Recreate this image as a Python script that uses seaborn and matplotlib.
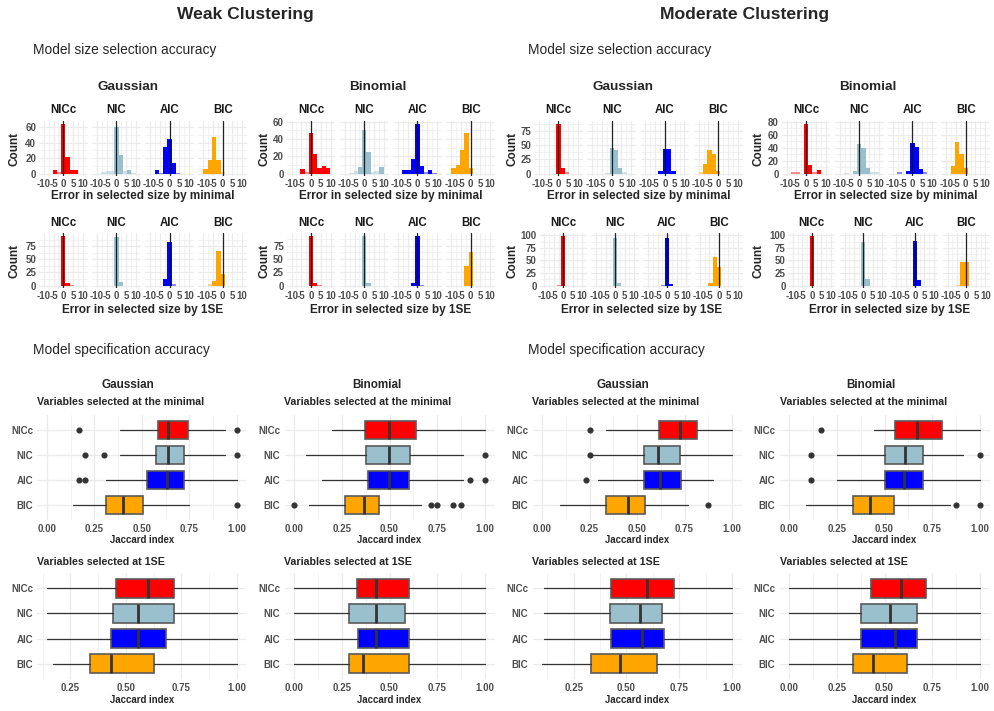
import numpy as np
import matplotlib
matplotlib.use("Agg")
import matplotlib.pyplot as plt
import seaborn as sns

# ── data ──────────────────────────────────────────────────────────────────────
methods = ["NICc", "NIC", "AIC", "BIC"]
palette = {"NICc": "#FF0000", "NIC": "#9AC0CD", "AIC": "#0000FF", "BIC": "#FFA500"}

# histogram bins (width 2.2, centred on 0); counts
bin_centres = [-8.8, -6.6, -4.4, -2.2, 0.0, 2.2, 4.4, 6.6, 8.8]
bin_edges = [-9.9, -7.7, -5.5, -3.3, -1.1, 1.1, 3.3, 5.5, 7.7, 9.9]

weak_gauss_min = {
    "NICc": [0, 0, 5, 2, 65, 22, 4, 4, 0],
    "NIC":  [0, 2, 3, 3, 60, 24, 3, 4, 1],
    "AIC":  [0, 4, 1, 35, 45, 14, 1, 0, 0],
    "BIC":  [6, 18, 48, 18, 2, 0, 0, 0, 0],
}
weak_gauss_1se = {
    "NICc": [0, 0, 0, 0, 95, 4, 1, 0, 0],
    "NIC":  [0, 0, 0, 0, 93, 6, 0, 0, 0],
    "AIC":  [0, 0, 0, 13, 84, 3, 0, 0, 0],
    "BIC":  [0, 2, 8, 67, 22, 0, 0, 0, 0],
}
weak_binom_min = {
    "NICc": [0, 0, 5, 2, 47, 23, 6, 9, 6],
    "NIC":  [0, 1, 3, 7, 50, 25, 2, 3, 8],
    "AIC":  [0, 4, 4, 17, 58, 9, 2, 4, 1],
    "BIC":  [6, 10, 27, 47, 6, 0, 0, 0, 0],
}
weak_binom_1se = {
    "NICc": [0, 0, 0, 0, 93, 5, 1, 0, 0],
    "NIC":  [0, 0, 0, 0, 93, 4, 0, 0, 0],
    "AIC":  [0, 0, 0, 5, 93, 1, 0, 0, 0],
    "BIC":  [0, 0, 0, 37, 62, 0, 0, 0, 0],
}
mod_gauss_min = {
    "NICc": [0, 0, 0, 0, 88, 10, 2, 0, 0],
    "NIC":  [0, 0, 0, 1, 45, 41, 10, 3, 0],
    "AIC":  [0, 0, 0, 5, 43, 43, 5, 0, 0],
    "BIC":  [3, 17, 42, 35, 5, 0, 0, 0, 0],
}
mod_gauss_1se = {
    "NICc": [0, 0, 0, 1, 99, 0, 0, 0, 0],
    "NIC":  [0, 0, 0, 0, 94, 5, 0, 0, 0],
    "AIC":  [0, 0, 0, 2, 94, 4, 0, 0, 0],
    "BIC":  [0, 0, 5, 57, 38, 0, 0, 0, 0],
}
mod_binom_min = {
    "NICc": [0, 2, 2, 0, 77, 13, 2, 5, 0],
    "NIC":  [0, 1, 0, 4, 45, 39, 8, 2, 2],
    "AIC":  [0, 2, 0, 4, 47, 41, 7, 2, 0],
    "BIC":  [0, 12, 48, 30, 8, 0, 0, 0, 0],
}
mod_binom_1se = {
    "NICc": [0, 0, 0, 0, 99, 0, 0, 0, 0],
    "NIC":  [0, 0, 0, 0, 86, 14, 0, 0, 0],
    "AIC":  [0, 0, 0, 0, 89, 11, 0, 0, 0],
    "BIC":  [0, 0, 2, 48, 48, 0, 0, 0, 0],
}

# Jaccard boxplots: whisker low, q1, median, q3, whisker high + outliers
weak_gauss_jmin = {
    "NICc": [0.385, 0.582, 0.638, 0.740, 0.935],
    "NIC":  [0.385, 0.572, 0.635, 0.722, 0.935],
    "AIC":  [0.311, 0.526, 0.630, 0.720, 1.000],
    "BIC":  [0.136, 0.308, 0.402, 0.503, 0.748],
}
weak_gauss_jmin_out = {"NICc": [0.167, 1.0], "NIC": [0.2, 0.3, 1.0],
                       "AIC": [0.167, 0.2], "BIC": [1.0]}
weak_gauss_j1se = {
    "NICc": [0.145, 0.455, 0.601, 0.715, 1.0],
    "NIC":  [0.145, 0.444, 0.556, 0.715, 1.0],
    "AIC":  [0.145, 0.431, 0.556, 0.679, 1.0],
    "BIC":  [0.171, 0.337, 0.431, 0.628, 1.0],
}
weak_binom_jmin = {
    "NICc": [0.200, 0.374, 0.498, 0.638, 1.000],
    "NIC":  [0.061, 0.376, 0.498, 0.607, 0.886],
    "AIC":  [0.147, 0.385, 0.498, 0.601, 0.886],
    "BIC":  [0.079, 0.266, 0.367, 0.444, 0.664],
}
weak_binom_jmin_out = {"NIC": [1.0], "AIC": [0.923, 1.0],
                       "BIC": [0.0, 0.715, 0.75, 0.834, 0.874]}
weak_binom_j1se = {
    "NICc": [0.0, 0.330, 0.431, 0.603, 1.0],
    "NIC":  [0.0, 0.290, 0.431, 0.581, 1.0],
    "AIC":  [0.0, 0.336, 0.431, 0.603, 1.0],
    "BIC":  [0.0, 0.290, 0.360, 0.603, 1.0],
}
mod_gauss_jmin = {
    "NICc": [0.337, 0.617, 0.727, 0.818, 1.000],
    "NIC":  [0.266, 0.538, 0.608, 0.727, 1.000],
    "AIC":  [0.297, 0.538, 0.621, 0.731, 0.900],
    "BIC":  [0.093, 0.336, 0.455, 0.542, 0.769],
}
mod_gauss_jmin_out = {"NICc": [0.252], "NIC": [0.252], "AIC": [0.233], "BIC": [0.876]}
mod_gauss_j1se = {
    "NICc": [0.109, 0.428, 0.599, 0.724, 1.0],
    "NIC":  [0.109, 0.420, 0.563, 0.667, 1.0],
    "AIC":  [0.109, 0.428, 0.572, 0.676, 1.0],
    "BIC":  [0.100, 0.334, 0.471, 0.645, 1.0],
}
mod_binom_jmin = {
    "NICc": [0.447, 0.555, 0.672, 0.799, 1.000],
    "NIC":  [0.253, 0.503, 0.607, 0.700, 0.913],
    "AIC":  [0.253, 0.503, 0.604, 0.703, 1.000],
    "BIC":  [0.087, 0.333, 0.424, 0.550, 0.843],
}
mod_binom_jmin_out = {"NICc": [0.169], "NIC": [0.113, 1.0], "AIC": [0.113],
                      "BIC": [0.873, 1.0]}
mod_binom_j1se = {
    "NICc": [0.0, 0.429, 0.585, 0.716, 1.0],
    "NIC":  [0.0, 0.375, 0.529, 0.668, 1.0],
    "AIC":  [0.0, 0.375, 0.555, 0.668, 1.0],
    "BIC":  [0.0, 0.333, 0.438, 0.620, 1.0],
}

# ── figure setup ──────────────────────────────────────────────────────────────
sns.set_theme(style="whitegrid")
plt.rcParams['font.family'] = ['Liberation Sans', 'DejaVu Sans']

W, H = 995, 711
fig = plt.figure(figsize=(W / 100, H / 100), dpi=100)
fig.patch.set_facecolor("white")

GRID = "#EBEBEB"
TICK = "#4D4D4D"


def ftext(x, y, s, **kw):
    kw.setdefault("va", "center")
    fig.text(x / W, 1 - y / H, s, **kw)


def add_ax(x0, y0, x1, y1):
    ax = fig.add_axes([x0 / W, 1 - y1 / H, (x1 - x0) / W, (y1 - y0) / H])
    ax.set_facecolor("white")
    for sp in ax.spines.values():
        sp.set_visible(False)
    ax.set_axisbelow(True)
    ax.grid(which="major", color=GRID, lw=0.9)
    ax.grid(which="minor", color=GRID, lw=0.45)
    ax.tick_params(which="both", length=0, labelsize=7, labelcolor=TICK)
    return ax


def hist_row(counts, left, right, top, bottom, ystep, strip_y):
    gap = 4.5
    w = (right - left - 3 * gap) / 4
    ymax = max(max(v) for v in counts.values())
    yt = np.arange(0, 1.05 * ymax, ystep)
    for i, m in enumerate(methods):
        x0 = left + i * (w + gap)
        ax = add_ax(x0, top, x0 + w, bottom)
        sns.histplot(x=bin_centres, weights=counts[m], bins=bin_edges,
                     color=palette[m], alpha=1, linewidth=0, ax=ax)
        for p in ax.patches:
            if p.get_height() <= 3:
                p.set_alpha(0.45)
        ax.axvline(0, color="black", lw=0.9, alpha=0.85)
        ax.set_xticks([-10, -5, 0, 5, 10])
        ax.set_xticklabels(["-10", "-5", "0", "5", "10"], fontweight="bold")
        ax.set_xticks([-7.5, -2.5, 2.5, 7.5], minor=True)
        ax.set_yticks(yt)
        ax.set_yticks(np.arange(ystep / 2, 1.05 * ymax, ystep), minor=True)
        if i == 0:
            ax.set_yticklabels([f"{v:g}" for v in yt], fontweight="bold")
        else:
            ax.set_yticklabels([])
        ax.set_xlim(-12.5, 12.5)
        ax.set_ylim(-0.05 * ymax, 1.05 * ymax)
        ax.tick_params(axis="x", pad=2.5)
        ax.tick_params(axis="y", pad=2)
        ax.set_xlabel("")
        ax.set_ylabel("")
        ftext(x0 + w / 2, strip_y, m, ha="center", fontsize=8.3,
              fontweight="bold", color="#1A1A1A")


def box_panel(stats, outliers, left, right, top, bottom, full_range):
    ax = add_ax(left, top, right, bottom)
    bstats = [dict(whislo=stats[m][0], q1=stats[m][1], med=stats[m][2],
                   q3=stats[m][3], whishi=stats[m][4],
                   fliers=outliers.get(m, []), label=m) for m in methods]
    parts = ax.bxp(bstats, positions=range(4), widths=0.75,
                   orientation="horizontal", patch_artist=True,
                   showcaps=False,
                   boxprops=dict(edgecolor="#5A5A5A", linewidth=1.2),
                   whiskerprops=dict(color="#333333", linewidth=0.9),
                   medianprops=dict(color="#333333", linewidth=2),
                   flierprops=dict(marker="o", markersize=3.4,
                                   markerfacecolor="#333333",
                                   markeredgecolor="#333333"))
    for patch, m in zip(parts["boxes"], methods):
        patch.set_facecolor(palette[m])
    ax.set_yticks(range(4))
    ax.set_yticklabels(methods, fontweight="bold")
    ax.set_xticks([0, 0.25, 0.5, 0.75, 1.0])
    ax.set_xticklabels(["0.00", "0.25", "0.50", "0.75", "1.00"], fontweight="bold")
    ax.set_xticks([0.125, 0.375, 0.625, 0.875], minor=True)
    ax.grid(which="minor", axis="y", visible=False)
    # limits last, so the tick setters cannot widen them again
    if full_range:
        ax.set_xlim(-0.05, 1.05)
    else:
        vals = [v for m in methods for v in stats[m]] + \
               [v for m in methods for v in outliers.get(m, [])]
        lo, hi = min(vals), max(vals)
        r = hi - lo
        ax.set_xlim(lo - 0.05 * r, hi + 0.05 * r)
    ax.set_ylim(3.6, -0.6)
    ax.tick_params(axis="x", pad=3.2)
    ax.tick_params(axis="y", pad=3)
    return ax


# ── headers ───────────────────────────────────────────────────────────────────
ftext(245, 14, "Weak Clustering", ha="center", fontsize=12.6, fontweight="bold")
ftext(745, 14, "Moderate Clustering", ha="center", fontsize=12.6, fontweight="bold")
for x0 in (33, 528):
    ftext(x0, 50, "Model size selection accuracy", ha="left", fontsize=9.9)
    ftext(x0, 350, "Model specification accuracy", ha="left", fontsize=9.9)

# ── histograms: error in selected model size ─────────────────────────────────
hist_groups = [
    # title, minimal, 1SE, left row1, left row2, right, title x, Count x, y steps
    ("Gaussian", weak_gauss_min, weak_gauss_1se, 39, 39, 247, 128, 15, (20, 25)),
    ("Binomial", weak_binom_min, weak_binom_1se, 286.7, 286.7, 495, 378, 265, (20, 25)),
    ("Gaussian", mod_gauss_min, mod_gauss_1se, 534, 539.6, 742.6, 623, 512, (25, 25)),
    ("Binomial", mod_binom_min, mod_binom_1se, 781.7, 788.3, 990, 868, 759, (20, 25)),
]
for title, cmin, c1se, l1, l2, r, tx, cx, steps in hist_groups:
    ftext(tx, 87, title, ha="center", fontsize=9.7, fontweight="bold")
    hist_row(cmin, l1, r, 121, 176, steps[0], 110)
    hist_row(c1se, l2, r, 233.5, 288, steps[1], 223)
    ftext(cx, 148.5, "Count", ha="center", rotation=90, fontsize=8.5, fontweight="bold")
    ftext(cx, 261, "Count", ha="center", rotation=90, fontsize=8.5, fontweight="bold")
    ftext((l1 + r) / 2, 196, "Error in selected size by minimal", ha="center",
          fontsize=8.5, fontweight="bold")
    ftext((l2 + r) / 2, 310, "Error in selected size by 1SE", ha="center",
          fontsize=8.5, fontweight="bold")

# ── boxplots: Jaccard index of selected variables ────────────────────────────
box_groups = [
    ("Gaussian", weak_gauss_jmin, weak_gauss_jmin_out, weak_gauss_j1se, 37.5, 246.5, 128),
    ("Binomial", weak_binom_jmin, weak_binom_jmin_out, weak_binom_j1se, 284.5, 494.5, 377),
    ("Gaussian", mod_gauss_jmin, mod_gauss_jmin_out, mod_gauss_j1se, 532.5, 741.5, 623),
    ("Binomial", mod_binom_jmin, mod_binom_jmin_out, mod_binom_j1se, 779.5, 989.5, 871),
]
for title, smin, omin, s1se, l, r, tx in box_groups:
    ftext(tx, 385, title, ha="center", fontsize=8.4, fontweight="bold")
    ftext(l, 402, "Variables selected at the minimal", ha="left",
          fontsize=7.7, fontweight="bold")
    box_panel(smin, omin, l, r, 415, 520, True)
    ftext((l + r) / 2, 540, "Jaccard index", ha="center", fontsize=6.9, fontweight="bold")

    ftext(l, 562, "Variables selected at 1SE", ha="left", fontsize=7.7, fontweight="bold")
    box_panel(s1se, {}, l, r, 573, 679, False)
    ftext((l + r) / 2, 700, "Jaccard index", ha="center", fontsize=6.9, fontweight="bold")

plt.savefig("out.png", dpi=100)
print("Saved out.png")
